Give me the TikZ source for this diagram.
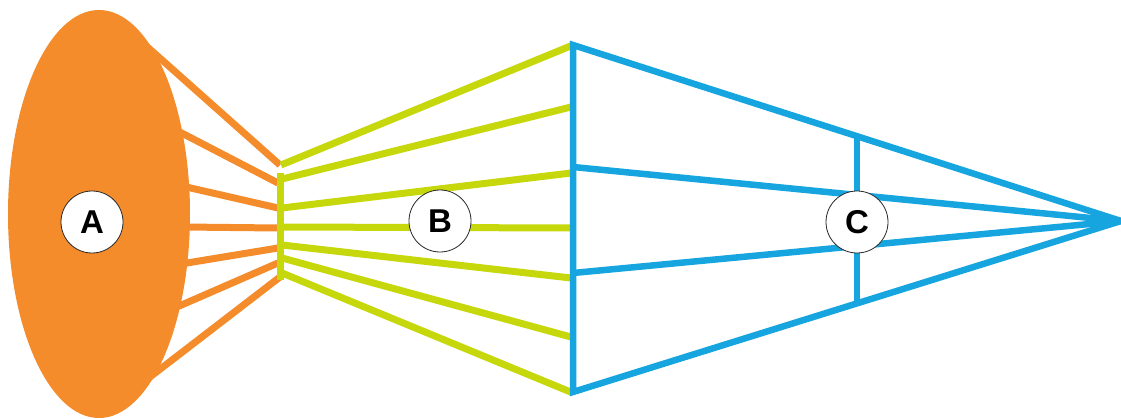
\documentclass[tikz,border=0pt]{standalone}
\usepackage{fontspec}
\setmainfont{Liberation Sans}
\usetikzlibrary{calc}
\definecolor{orA}{HTML}{F48C2B}
\definecolor{grB}{HTML}{C6D80B}
\definecolor{blC}{HTML}{17A5DF}
\tikzset{
  oline/.style={draw=orA, line width=7pt},
  gline/.style={draw=grB, line width=7pt},
  bline/.style={draw=blC, line width=6.5pt},
  tag/.style={circle, draw=black!85, line width=0.8pt, fill=white, minimum size=62pt, inner sep=0pt, font=\fontsize{33}{33}\selectfont\bfseries}
}
\begin{document}
\begin{tikzpicture}[x=1pt,y=1pt]
\useasboundingbox (0,0) rectangle (1121,418);
% ellipse A
\fill[orA] (99,204) ellipse [x radius=91, y radius=204];
% coordinates
\coordinate (o1) at (126,390);
\coordinate (o2) at (172,290);
\coordinate (o3) at (182,232);
\coordinate (o4) at (183,191);
\coordinate (o5) at (181,154);
\coordinate (o6) at (170,108);
\coordinate (o7) at (120,18);
\coordinate (p1) at (280,253);
\coordinate (p2) at (278,235);
\coordinate (p3) at (278,210);
\coordinate (p4) at (278,190);
\coordinate (p5) at (278,170);
\coordinate (p6) at (278,155);
\coordinate (p7) at (280,141);
\coordinate (bartop) at (280,245);
\coordinate (barbot) at (280,138);
\coordinate (q1) at (281,253);
\coordinate (q2) at (282,239);
\coordinate (q3) at (282,210);
\coordinate (q4) at (282,191);
\coordinate (q5) at (282,173);
\coordinate (q6) at (282,160);
\coordinate (q7) at (282,145);
\coordinate (r1) at (573,373);
\coordinate (r2) at (571,311);
\coordinate (r3) at (571,245);
\coordinate (r4) at (571,190);
\coordinate (r5) at (571,140);
\coordinate (r6) at (571,81);
\coordinate (r7) at (573,25);
\coordinate (vtop) at (573,373);
\coordinate (vbot) at (573,26);
\coordinate (vm1) at (573,251);
\coordinate (vm2) at (573,145);
\coordinate (apex) at (1121,197);
\coordinate (ctop) at ($(vtop)!0.518!(apex)$);
\coordinate (cbot) at ($(vbot)!0.518!(apex)$);
% orange lines
\foreach \i in {1,...,7} \path[oline] (o\i) -- (p\i);
% green bar and lines
\path[gline] (bartop) -- (barbot);
\foreach \i in {1,...,7} \path[gline] (q\i) -- (r\i);
% blue frame
\path[bline] (apex) -- (vtop) -- (vbot) -- (apex);
\path[bline] (vm1) -- (apex);
\path[bline] (vm2) -- (apex);
\path[bline] (ctop) -- (cbot);
% tags
\node[tag] (A) at (92,196) {A};
\node[tag] (B) at (440,197) {B};
\node[tag] (C) at (857,196) {C};
\end{tikzpicture}
\end{document}
